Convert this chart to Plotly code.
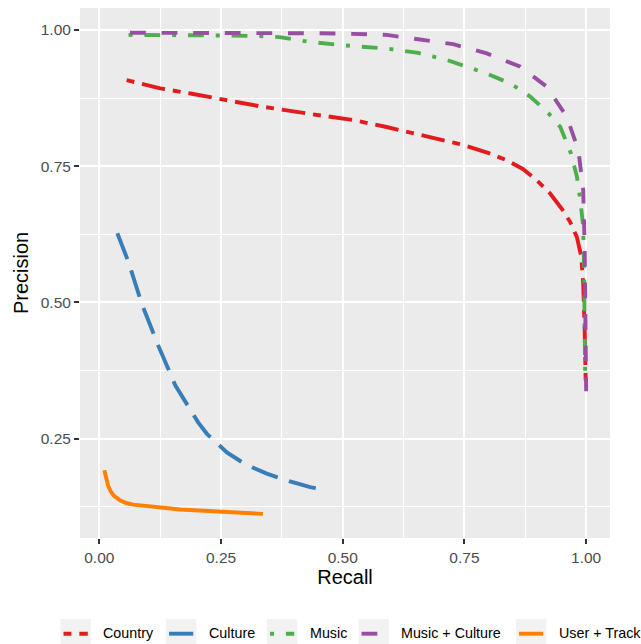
import plotly.graph_objects as go

# ---------------- data ----------------
series_names = ["Country", "Culture", "Music", "Music + Culture", "User + Track"]

country_recall = [0.056, 0.125, 0.190, 0.248, 0.330, 0.433, 0.520, 0.590, 0.670, 0.748, 0.800,
                  0.837, 0.870, 0.899, 0.926, 0.950, 0.967, 0.981, 0.990, 0.994, 0.997, 0.999]
country_precision = [0.908, 0.893, 0.883, 0.873, 0.860, 0.846, 0.835, 0.822, 0.806, 0.789, 0.774,
                     0.761, 0.745, 0.724, 0.700, 0.672, 0.648, 0.620, 0.584, 0.535, 0.450, 0.357]

culture_recall = [0.037, 0.060, 0.087, 0.121, 0.156, 0.203, 0.221, 0.262, 0.300, 0.344, 0.390,
                  0.433, 0.467]
culture_precision = [0.627, 0.574, 0.498, 0.421, 0.348, 0.280, 0.259, 0.225, 0.203, 0.186, 0.172,
                     0.161, 0.156]

music_recall = [0.060, 0.150, 0.250, 0.330, 0.370, 0.426, 0.500, 0.590, 0.655, 0.714, 0.796,
                0.844, 0.885, 0.922, 0.947, 0.969, 0.981, 0.988, 0.994, 0.996, 0.997, 0.998]
music_precision = [0.991, 0.991, 0.990, 0.989, 0.987, 0.979, 0.972, 0.966, 0.958, 0.945, 0.920,
                   0.902, 0.878, 0.848, 0.822, 0.773, 0.731, 0.688, 0.639, 0.550, 0.450, 0.363]

mc_recall = [0.063, 0.200, 0.350, 0.450, 0.520, 0.590, 0.655, 0.727, 0.796, 0.864, 0.919,
             0.960, 0.984, 0.994, 0.997, 0.998, 0.999, 1.000]
mc_precision = [0.995, 0.995, 0.995, 0.994, 0.993, 0.991, 0.983, 0.974, 0.957, 0.933, 0.896,
                0.841, 0.780, 0.706, 0.600, 0.500, 0.400, 0.337]

ut_recall = [0.0103, 0.014, 0.018, 0.023, 0.029, 0.0425, 0.055, 0.070, 0.095, 0.118, 0.166,
             0.234, 0.280, 0.336]
ut_precision = [0.192, 0.178, 0.164, 0.154, 0.146, 0.137, 0.132, 0.129, 0.127, 0.124, 0.120,
                0.117, 0.115, 0.112]

tick_values = [0.0, 0.25, 0.5, 0.75, 1.0]
tick_labels = ["0.00", "0.25", "0.50", "0.75", "1.00"]

# ---------------- styles ----------------
colors = ["#E41A1C", "#377EB8", "#4DAF4A", "#984EA3", "#FF7F00"]
dashes = ["7.9px,7.9px,23.7px,7.9px", "27.7px,11.9px", "4px,11.9px,15.8px,11.9px",
          "15.8px,15.8px", "solid"]
LW = 3.9

xs = [country_recall, culture_recall, music_recall, mc_recall, ut_recall]
ys = [country_precision, culture_precision, music_precision, mc_precision, ut_precision]

W, H = 641, 644
ML, MR, MT, MB = 80, 31, 8, 106
PW, PH = W - ML - MR, H - MT - MB


def px_x(px):
    return (px - ML) / PW


def px_y(py):
    return (H - MB - py) / PH


fig = go.Figure()
for name, x, y, c, d in zip(series_names, xs, ys, colors, dashes):
    fig.add_trace(go.Scatter(x=x, y=y, mode="lines", name=name, showlegend=False,
                             line=dict(color=c, width=LW, dash=d)))

font_family = "Liberation Sans, Arial, sans-serif"
fig.update_layout(
    width=W, height=H,
    margin=dict(l=ML, r=MR, t=MT, b=MB, pad=0),
    paper_bgcolor="white", plot_bgcolor="#EBEBEB",
    font=dict(family=font_family, color="#4D4D4D"),
    showlegend=False,
)

axis_common = dict(
    showline=False, zeroline=False,
    showgrid=True, gridcolor="white", gridwidth=2,
    ticks="outside", ticklen=5, tickwidth=2, tickcolor="#333333",
    tickvals=tick_values, ticktext=tick_labels,
    tickfont=dict(size=15.5, color="#4D4D4D", family=font_family),
)
fig.update_xaxes(range=[-0.0397, 1.049],
                 minor=dict(tick0=0.125, dtick=0.25, showgrid=True, gridcolor="white",
                            gridwidth=1, ticks=""),
                 title=dict(text="Recall", font=dict(size=20, color="black", family=font_family),
                            standoff=4),
                 **axis_common)
fig.update_yaxes(range=[0.0678, 1.0404],
                 minor=dict(tick0=0.125, dtick=0.25, showgrid=True, gridcolor="white",
                            gridwidth=1, ticks=""),
                 title=dict(text="Precision", font=dict(size=20, color="black", family=font_family),
                            standoff=6),
                 **axis_common)

# ---------------- custom ggplot-style legend ----------------
key_left = [60.5, 166.0, 267.0, 358.5, 516.0]
key_w = 30.3
key_top, key_bot = 619.0, 649.3
line_y = 633.7
text_y = 633.0
text_gap = 10.5
for name, c, d, kx in zip(series_names, colors, dashes, key_left):
    fig.add_shape(type="rect", xref="paper", yref="paper",
                  x0=px_x(kx), x1=px_x(kx + key_w), y0=px_y(key_bot), y1=px_y(key_top),
                  fillcolor="#F2F2F2", line=dict(width=0), layer="below")
    fig.add_shape(type="line", xref="paper", yref="paper",
                  x0=px_x(kx + 0.1 * key_w), x1=px_x(kx + 0.9 * key_w),
                  y0=px_y(line_y), y1=px_y(line_y),
                  line=dict(color=c, width=LW, dash=d))
    fig.add_annotation(text=name, xref="paper", yref="paper",
                       x=px_x(kx + key_w + text_gap), y=px_y(text_y),
                       xanchor="left", yanchor="middle", showarrow=False,
                       font=dict(size=14.3, color="black", family=font_family))

fig.write_html("out.html")
